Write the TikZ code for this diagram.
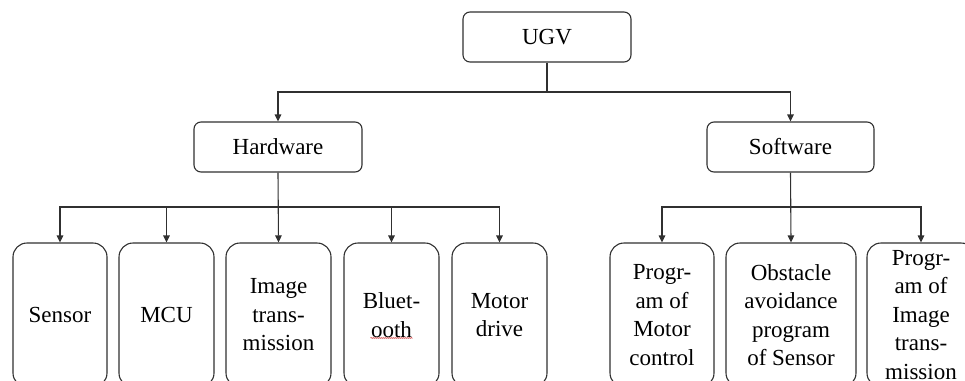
\documentclass[tikz,border=0pt]{standalone}
\usepackage{fontspec}
\setmainfont{Liberation Serif}
\newfontfamily\tnr{Liberation Serif}
\usetikzlibrary{arrows.meta,decorations.pathmorphing}
\definecolor{ln}{HTML}{303030}
\tikzset{
  topbox/.style={draw=ln, line width=1.1pt, rounded corners=7pt, inner sep=0pt,
    minimum height=50pt, align=center, font=\tnr\fontsize{23}{29}\selectfont},
  leafbox/.style={draw=ln, line width=1.1pt, rounded corners=14pt, inner sep=0pt,
    minimum height=144pt, align=center, font=\tnr\fontsize{23}{28.5}\selectfont},
  conn/.style={draw=ln, line width=1.1pt},
  arr/.style={conn, -{Triangle[length=7pt,width=6.5pt]}}
}
\begin{document}
\begin{tikzpicture}[x=1pt,y=1pt]
\path[use as bounding box, clip] (0,0) rectangle (965,-380);
% top level
\node[topbox, minimum width=168pt] (ugv) at (547,-37) {UGV};
\node[topbox, minimum width=168pt] (hw) at (278,-147) {Hardware};
\node[topbox, minimum width=167pt] (sw) at (790.5,-147) {Software};
% leaves
\node[leafbox, minimum width=94pt]  (sen) at (60,-315) {Sensor};
\node[leafbox, minimum width=95pt]  (mcu) at (166.5,-315) {MCU};
\node[leafbox, minimum width=105pt] (img) at (278.5,-315) {Image\\trans-\\mission};
\node[leafbox, minimum width=95pt]  (bt)  at (391.5,-315) {Bluet-\\ooth};
\node[leafbox, minimum width=95pt]  (md)  at (499.5,-315) {Motor\\drive};
\node[leafbox, minimum width=104pt] (pmc) at (662,-315) {Progr-\\am of\\Motor\\control};
\node[leafbox, minimum width=130pt] (obs) at (791,-315) {Obstacle\\avoidance\\program\\of Sensor};
\node[leafbox, minimum width=108pt] (pit) at (921,-315) {Progr-\\am of\\Image\\trans-\\mission};
% junctions
\coordinate (j1) at (547,-92);
\coordinate (j2) at (278,-207);
\coordinate (j3) at (791,-207);
% connectors level 1
\draw[conn] (ugv.south) -- (j1);
\draw[arr] (j1) -| (hw.north);
\draw[arr] (j1) -| (sw.north);
% hardware
\draw[arr] (hw.south) -- (img.north);
\draw[arr] (j2) -| (sen.north);
\draw[arr] (j2) -| (mcu.north);
\draw[arr] (j2) -| (bt.north);
\draw[arr] (j2) -| (md.north);
% software
\draw[arr] (sw.south) -- (obs.north);
\draw[arr] (j3) -| (pmc.north);
\draw[arr] (j3) -| (pit.north);
% spell-check squiggle
\draw[red!75!black, line width=0.5pt, decorate,
  decoration={snake, amplitude=0.5pt, segment length=2pt}]
  ([xshift=-21pt,yshift=-23pt]bt.center) -- ([xshift=21pt,yshift=-23pt]bt.center);
\end{tikzpicture}
\end{document}
